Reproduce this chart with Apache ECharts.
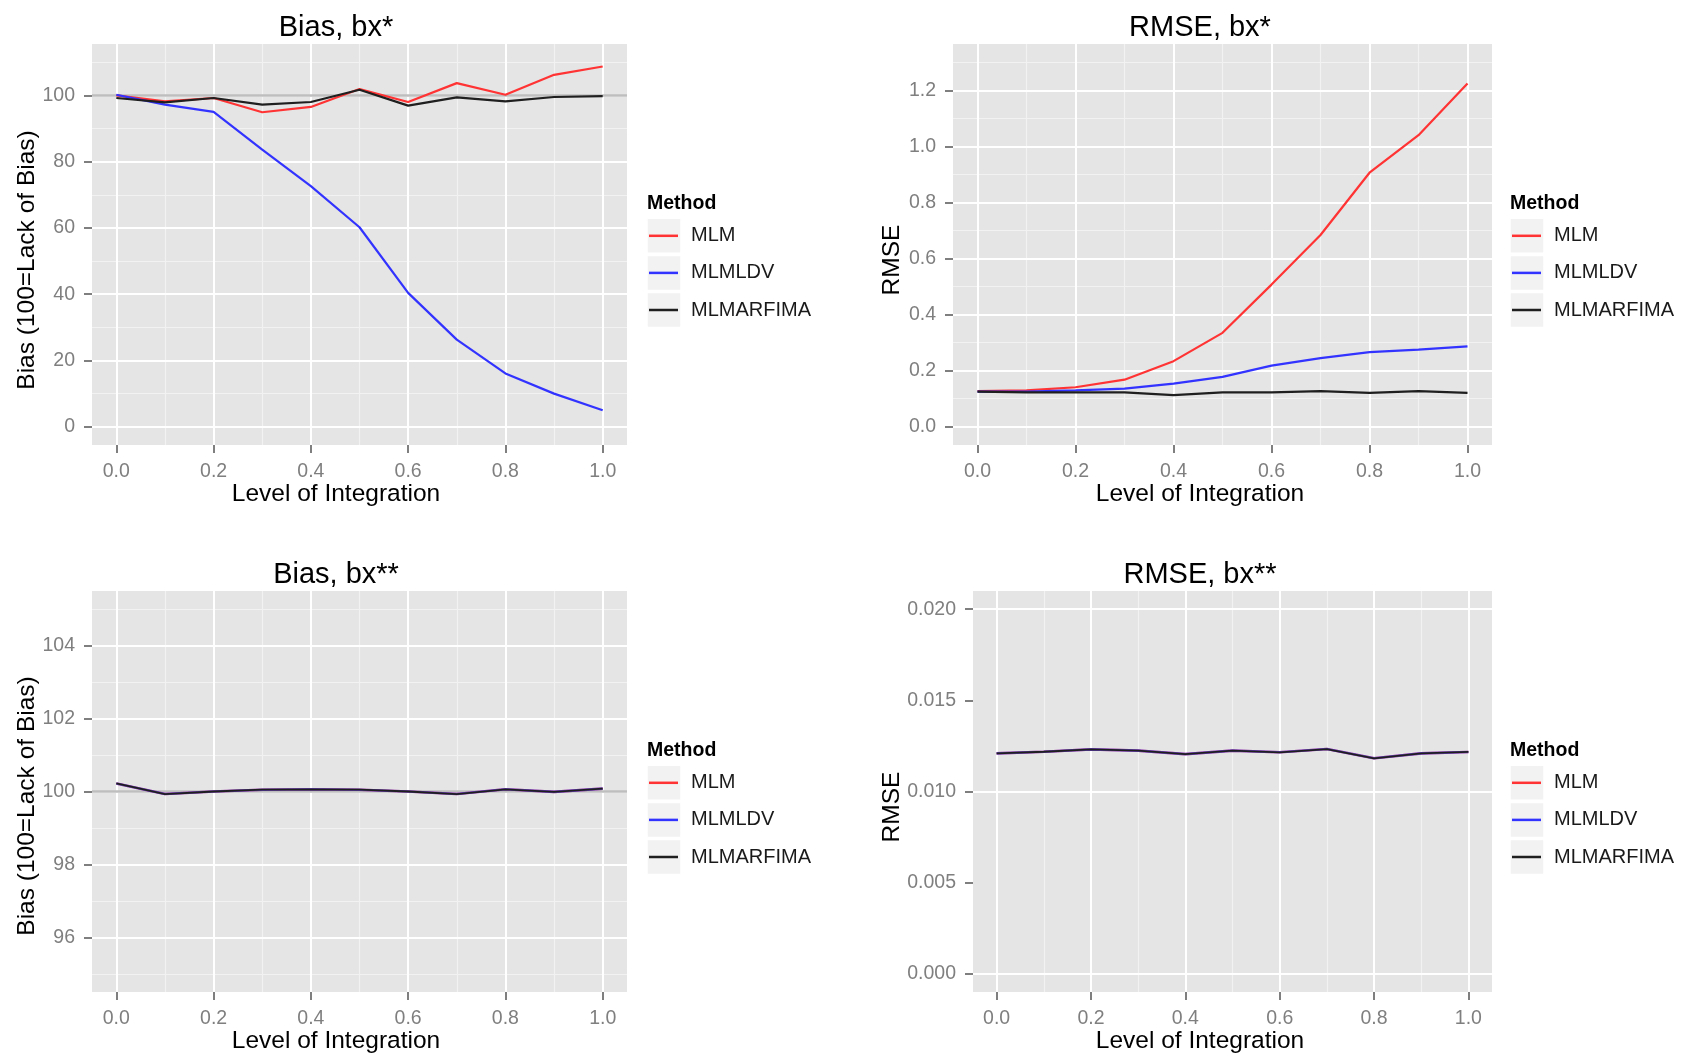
<!DOCTYPE html>
<html>
<head>
<meta charset="utf-8">
<script src="https://cdn.jsdelivr.net/npm/echarts@6/dist/echarts.min.js"></script>
<style>
html,body{margin:0;padding:0;background:#fff;}
#chart{width:1685px;height:1054px;}
</style>
</head>
<body>
<div id="chart"></div>
<script>
// ---------- data ----------
const methods = ['MLM', 'MLMLDV', 'MLMARFIMA'];
const levels = [0.0, 0.1, 0.2, 0.3, 0.4, 0.5, 0.6, 0.7, 0.8, 0.9, 1.0];

const biasStarMLM = [100.0, 98.2, 99.2, 94.9, 96.5, 101.9, 98.0, 103.7, 100.2, 106.2, 108.7];
const biasStarLDV = [100.2, 97.2, 95.0, 83.6, 72.6, 60.2, 40.4, 26.3, 16.1, 10.0, 5.0];
const biasStarARF = [99.2, 97.9, 99.2, 97.2, 98.0, 101.7, 96.9, 99.4, 98.2, 99.5, 99.8];

const rmseStarMLM = [0.127, 0.130, 0.141, 0.168, 0.234, 0.335, 0.507, 0.684, 0.906, 1.040, 1.224];
const rmseStarLDV = [0.125, 0.125, 0.130, 0.136, 0.154, 0.178, 0.218, 0.245, 0.266, 0.275, 0.287];
const rmseStarARF = [0.125, 0.123, 0.123, 0.123, 0.113, 0.123, 0.123, 0.127, 0.121, 0.127, 0.121];

const biasDStarMLM = [100.22, 99.93, 100.00, 100.05, 100.06, 100.05, 100.00, 99.93, 100.06, 99.99, 100.08];
const biasDStarLDV = [100.22, 99.93, 100.00, 100.05, 100.06, 100.05, 100.00, 99.93, 100.06, 99.99, 100.08];
const biasDStarARF = [100.22, 99.93, 100.00, 100.05, 100.06, 100.05, 100.00, 99.93, 100.06, 99.99, 100.08];

const rmseDStarMLM = [0.01209, 0.01218, 0.01231, 0.01224, 0.01205, 0.01224, 0.01215, 0.01233, 0.01182, 0.01209, 0.01217];
const rmseDStarLDV = [0.01209, 0.01218, 0.01231, 0.01224, 0.01205, 0.01224, 0.01215, 0.01233, 0.01182, 0.01209, 0.01217];
const rmseDStarARF = [0.01209, 0.01218, 0.01231, 0.01224, 0.01205, 0.01224, 0.01215, 0.01233, 0.01182, 0.01209, 0.01217];

// tick labels / grid breaks
const xTicks = [0.0, 0.2, 0.4, 0.6, 0.8, 1.0];
const xMinor = [0.1, 0.3, 0.5, 0.7, 0.9];
const biasStarTicks = [0, 20, 40, 60, 80, 100];
const biasStarMinor = [10, 30, 50, 70, 90, 110];
const rmseStarTicks = [0.0, 0.2, 0.4, 0.6, 0.8, 1.0, 1.2];
const rmseStarMinor = [0.1, 0.3, 0.5, 0.7, 0.9, 1.1, 1.3];
const biasDStarTicks = [96, 98, 100, 102, 104];
const biasDStarMinor = [95, 97, 99, 101, 103, 105];
const rmseDStarTicks = [0.000, 0.005, 0.010, 0.015, 0.020];
const rmseDStarMinor = [0.0025, 0.0075, 0.0125, 0.0175];

const titles = ['Bias, bx*', 'RMSE, bx*', 'Bias, bx**', 'RMSE, bx**'];
const yTitles = ['Bias (100=Lack of Bias)', 'RMSE', 'Bias (100=Lack of Bias)', 'RMSE'];
const xTitle = 'Level of Integration';
const legendTitle = 'Method';

// ---------- styling / layout ----------
const FONT = '"Liberation Sans", Arial, Helvetica, sans-serif';
const colors = ['#ff3333', '#3333ff', '#1f1f1f'];
const KEY_STEP = 37.1;
const panels = [
  { grid: {left: 92, top: 44, width: 535, height: 401}, xr: [-0.05, 1.05], yr: [-5.5, 115.5],
    yTicks: biasStarTicks, yMinor: biasStarMinor, fmt: v => String(Math.round(v)), hline: 100,
    vals: [biasStarMLM, biasStarLDV, biasStarARF], overlap: false,
    title: [336, 28], ytitle: [27, 260], xtitle: [336, 494], legend: [647, 203.5] },
  { grid: {left: 953, top: 44, width: 539, height: 401}, xr: [-0.05, 1.05], yr: [-0.065, 1.365],
    yTicks: rmseStarTicks, yMinor: rmseStarMinor, fmt: v => v.toFixed(1), hline: null,
    vals: [rmseStarMLM, rmseStarLDV, rmseStarARF], overlap: false,
    title: [1200, 28], ytitle: [892, 260], xtitle: [1200, 494], legend: [1510, 203.5] },
  { grid: {left: 92, top: 591, width: 535, height: 401}, xr: [-0.05, 1.05], yr: [94.5, 105.5],
    yTicks: biasDStarTicks, yMinor: biasDStarMinor, fmt: v => String(Math.round(v)), hline: 100,
    vals: [biasDStarMLM, biasDStarLDV, biasDStarARF], overlap: true,
    title: [336, 575], ytitle: [27, 806], xtitle: [336, 1041], legend: [647, 750.5] },
  { grid: {left: 973, top: 591, width: 519, height: 401}, xr: [-0.05, 1.05], yr: [-0.001, 0.021],
    yTicks: rmseDStarTicks, yMinor: rmseDStarMinor, fmt: v => v.toFixed(3), hline: null,
    vals: [rmseDStarMLM, rmseDStarLDV, rmseDStarARF], overlap: true,
    title: [1200, 575], ytitle: [892, 807], xtitle: [1200, 1041], legend: [1510, 750.5] }
];

const grids = [], xAxes = [], yAxes = [], series = [], legends = [], graphics = [];
const tickColor = '#7f7f7f';

panels.forEach((p, i) => {
  grids.push(Object.assign({ show: true, backgroundColor: '#e5e5e5', borderWidth: 0 }, p.grid));
  xAxes.push({
    type: 'value', gridIndex: i, min: p.xr[0], max: p.xr[1],
    axisLine: { show: false, onZero: false },
    axisTick: { show: true, length: 8, customValues: xTicks, lineStyle: { color: tickColor, width: 2 } },
    axisLabel: { customValues: xTicks, formatter: v => v.toFixed(1), color: tickColor, fontSize: 19.5, fontFamily: FONT, margin: 17 },
    splitLine: { show: false }
  });
  yAxes.push({
    type: 'value', gridIndex: i, min: p.yr[0], max: p.yr[1],
    axisLine: { show: false, onZero: false },
    axisTick: { show: true, length: 8, customValues: p.yTicks, lineStyle: { color: tickColor, width: 2 } },
    axisLabel: { customValues: p.yTicks, formatter: p.fmt, color: tickColor, fontSize: 19.5, fontFamily: FONT, margin: 17 },
    splitLine: { show: false }
  });
  // background grid lines through the axes' own scales
  const ml = [];
  xMinor.forEach(v => ml.push({ xAxis: v, lineStyle: { color: '#f2f2f2', width: 1.2, type: 'solid' } }));
  p.yMinor.forEach(v => ml.push({ yAxis: v, lineStyle: { color: '#f2f2f2', width: 1.2, type: 'solid' } }));
  xTicks.forEach(v => ml.push({ xAxis: v, lineStyle: { color: '#ffffff', width: 2, type: 'solid' } }));
  p.yTicks.forEach(v => ml.push({ yAxis: v, lineStyle: { color: '#ffffff', width: 2, type: 'solid' } }));
  if (p.hline !== null) ml.push({ yAxis: p.hline, lineStyle: { color: '#bebebe', width: 2.6, type: 'solid' } });
  series.push({
    type: 'line', name: '_grid' + i, xAxisIndex: i, yAxisIndex: i, data: [], z: 1, silent: true,
    markLine: { z: 1, silent: true, symbol: ['none', 'none'], label: { show: false }, data: ml, animation: false }
  });
  methods.forEach((m, k) => {
    const ys = p.vals[k];
    const isBlack = k === 2;
    series.push({
      type: 'line', name: m, xAxisIndex: i, yAxisIndex: i, z: 6 + k,
      data: levels.map((x, j) => [x, ys[j]]),
      showSymbol: false, symbol: 'none', silent: true,
      itemStyle: { color: colors[k] },
      lineStyle: { color: colors[k], width: p.overlap ? (isBlack ? 1.8 : 2.6) : 2.2, opacity: p.overlap && !isBlack ? 0.7 : 1 }
    });
  });
  legends.push({
    orient: 'vertical', left: p.legend[0] + 2, top: p.legend[1] + 32.3 - 10,
    itemWidth: 29, itemHeight: 2.5, itemGap: KEY_STEP - 20, icon: 'rect', padding: 0,
    selectedMode: false,
    textStyle: { fontSize: 20, lineHeight: 20, color: '#1a1a1a', fontFamily: FONT, padding: [0, 0, 0, 8] },
    data: methods
  });
  // texts
  graphics.push({ type: 'text', x: p.title[0], y: p.title[1], style: { text: titles[i], align: 'center', verticalAlign: 'middle', fontSize: 29, fontFamily: FONT, fill: '#000' } });
  graphics.push({ type: 'text', x: p.xtitle[0], y: p.xtitle[1], style: { text: xTitle, align: 'center', verticalAlign: 'middle', fontSize: 24.5, fontFamily: FONT, fill: '#000' } });
  graphics.push({ type: 'text', x: p.ytitle[0], y: p.ytitle[1], rotation: Math.PI / 2, style: { text: yTitles[i], align: 'center', verticalAlign: 'middle', fontSize: 24.5, fontFamily: FONT, fill: '#000' } });
  graphics.push({ type: 'text', x: p.legend[0], y: p.legend[1], style: { text: legendTitle, align: 'left', verticalAlign: 'middle', fontSize: 19.5, fontWeight: 'bold', fontFamily: FONT, fill: '#000' } });
  methods.forEach((m, k) => {
    graphics.push({ type: 'rect', z: -1, shape: { x: p.legend[0], y: p.legend[1] + 32.3 + k * KEY_STEP - 17.5, width: 34, height: 35 },
      style: { fill: '#f2f2f2', stroke: '#ffffff', lineWidth: 1.5 } });
  });
});

const chart = echarts.init(document.getElementById('chart'), null, { renderer: 'canvas' });
chart.setOption({
  animation: false,
  backgroundColor: '#ffffff',
  grid: grids, xAxis: xAxes, yAxis: yAxes, series: series, legend: legends,
  graphic: graphics
});
</script>
</body>
</html>
